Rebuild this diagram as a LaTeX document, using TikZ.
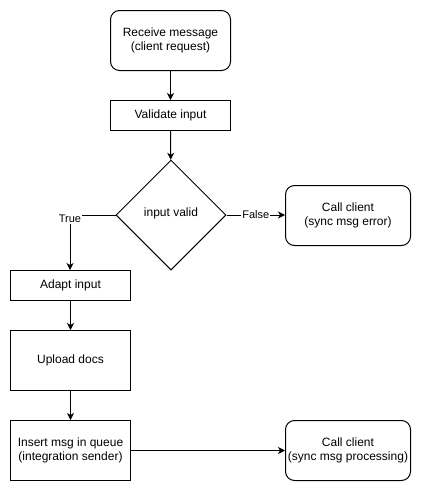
\documentclass[tikz,border=0pt]{standalone}
\usepackage{fontspec}
\setmainfont{Liberation Sans}
\usetikzlibrary{shapes.geometric,arrows.meta}
\begin{document}
\begin{tikzpicture}[x=1pt,y=-1pt,
  every node/.style={font=\fontsize{12}{14}\selectfont, align=center, inner sep=0pt},
  box/.style={draw, line width=1pt, minimum width=120pt, minimum height=#1, anchor=north west},
  rbox/.style={box=#1, rounded corners=9pt},
  dec/.style={draw, line width=1pt, diamond, minimum width=110pt, minimum height=110pt},
  lbl/.style={fill=white, font=\fontsize{11}{13}\selectfont, inner sep=1pt},
  arr/.style={draw, line width=1pt, -{Stealth[length=7pt,width=7pt,inset=2pt]}}]
\useasboundingbox (0,0) rectangle (421,490);
\node[rbox=60pt] (recv) at (110,10) {Receive message\\(client request)};
\node[box=30pt] (valid) at (110,100) {Validate input};
\node[dec] (dia) at (171,215) {};
\node at (171,213) {input valid};
\node[rbox=60pt, minimum width=125pt] (err) at (285,185) {Call client\\(sync msg error)};
\node[box=30pt] (adapt) at (10,270) {Adapt input};
\node[box=60pt] (upload) at (10,330) {Upload docs};
\node[box=60pt] (insert) at (10,420) {Insert msg in queue\\(integration sender)};
\node[rbox=60pt, minimum width=125pt] (proc) at (285,420) {Call client\\(sync msg processing)};
\coordinate (corner) at (70,215);
\draw[arr] (recv) -- (valid);
\draw[arr] (valid) -- (dia);
\draw[arr] (dia.west) -- (corner) -- (corner |- adapt.north);
\node[lbl] at (70,219) {True};
\draw[arr] (dia.east) -- node[lbl]{False} (err.west |- dia.east);
\draw[arr] (adapt) -- (upload);
\draw[arr] (upload) -- (insert);
\draw[arr] (insert) -- (proc);
\end{tikzpicture}
\end{document}
